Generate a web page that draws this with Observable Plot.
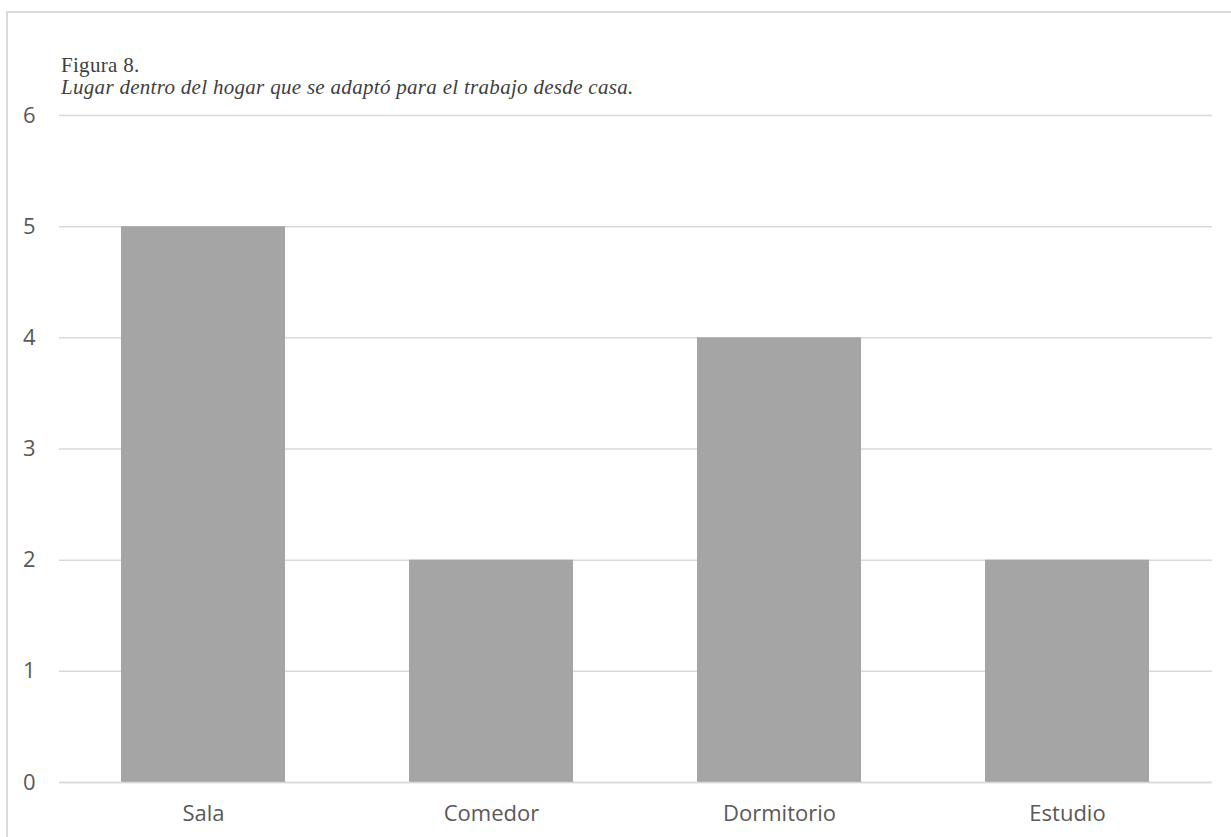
<!DOCTYPE html>
<html>
<head>
<meta charset="utf-8">
<script src="https://cdn.jsdelivr.net/npm/d3@7"></script>
<script src="https://cdn.jsdelivr.net/npm/@observablehq/plot@0.6"></script>
<style>
  html, body { margin: 0; padding: 0; background: #fff; }
  #wrap { position: relative; width: 1231px; height: 837px; overflow: hidden; }
  #frame { position: absolute; left: 6px; top: 11px; width: 1240px; height: 900px; border: 2px solid #d9d9d9; box-sizing: border-box; }
  #title { position: absolute; left: 61px; top: 54px; font-family: "Liberation Serif", "DejaVu Serif", serif; font-size: 21px; letter-spacing: 0.3px; color: #404040; line-height: 22px; }
  #title .sub { font-style: italic; }
  #chart { position: absolute; left: 0; top: 0; }
</style>
</head>
<body>
<div id="wrap">
  <div id="frame"></div>
  <div id="chart"></div>
  <div id="title"><div>Figura 8.</div><div class="sub">Lugar dentro del hogar que se adaptó para el trabajo desde casa.</div></div>
</div>
<script>
const categories = ["Sala", "Comedor", "Dormitorio", "Estudio"];
const values = [5, 2, 4, 2];
const yTicks = [0, 1, 2, 3, 4, 5, 6];

const data = categories.map((c, i) => ({category: c, value: values[i]}));

const chart = Plot.plot({
  width: 1231,
  height: 837,
  marginLeft: 59,
  marginRight: 19,
  marginTop: 115,
  marginBottom: 55,
  style: {fontFamily: "'Open Sans', Lato, sans-serif", fontSize: "22px", color: "#595959", background: "transparent"},
  x: {domain: categories, paddingInner: 0.43, paddingOuter: 0.215, label: null, tickSize: 0, tickPadding: 23},
  y: {domain: [0, 6], ticks: yTicks, label: null, tickSize: 0, tickPadding: 24, tickFormat: d3.format("d")},
  marks: [
    Plot.ruleY(yTicks, {stroke: "#d9d9d9", strokeWidth: 1.5}),
    Plot.barY(data, {x: "category", y: "value", fill: "#a5a5a5"}),
    Plot.ruleY([0], {stroke: "#d9d9d9", strokeWidth: 1.5})
  ]
});
document.getElementById("chart").appendChild(chart);
</script>
</body>
</html>
